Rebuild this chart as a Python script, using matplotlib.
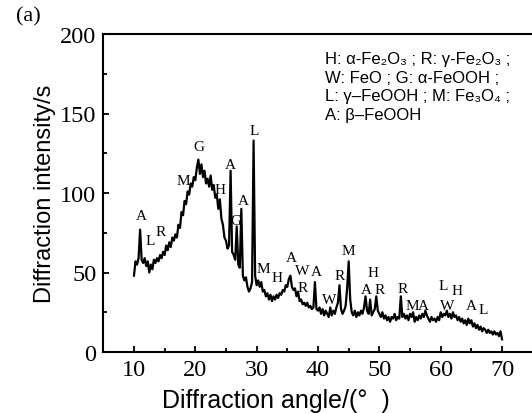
import numpy as np
import matplotlib
matplotlib.use("Agg")
import matplotlib.pyplot as plt
from matplotlib.ticker import MultipleLocator

# ---- data ----
angle_start, angle_step = 10.0, 0.25
intensity = [
    48, 57, 55, 59,    # 10
    77, 58, 56, 59,    # 11
    54, 57, 50, 55,    # 12
    52, 58, 56, 59,    # 13
    57, 61, 59, 63,    # 14
    61, 67, 64, 69,    # 15
    66, 72, 70, 74,    # 16
    72, 80, 78, 88,    # 17
    86, 95, 93, 101,   # 18
    99, 106, 104, 110, # 19
    108, 116, 121, 112,# 20
    118, 110, 114, 106,# 21
    109, 104, 111, 102,# 22
    105, 97, 99, 90,   # 23
    96, 84, 80, 72,    # 24
    70, 65, 67, 114,   # 25
    63, 61, 58, 79,    # 26
    55, 53, 90, 48,    # 27
    45, 47, 41, 38,    # 28
    40, 44, 133, 48,   # 29
    42, 45, 41, 44,    # 30
    38, 39, 35, 37,    # 31
    33, 36, 32, 35,    # 32
    33, 36, 34, 37,    # 33
    36, 39, 38, 42,    # 34
    41, 46, 48, 41,    # 35
    39, 40, 35, 38,    # 36
    32, 33, 30, 31,    # 37
    29, 31, 28, 29,    # 38
    27, 28, 44, 27,    # 39
    26, 28, 24, 27,    # 40
    23, 26, 24, 22,    # 41
    28, 23, 26, 24,    # 42
    28, 31, 42, 27,    # 43
    24, 26, 29, 40,    # 44
    57, 33, 25, 23,    # 45
    26, 22, 25, 23,    # 46
    26, 24, 28, 35,    # 47
    26, 24, 33, 23,    # 48
    25, 27, 35, 26,    # 49
    24, 22, 25, 21,    # 50
    23, 20, 22, 19,    # 51
    22, 21, 24, 20,    # 52
    22, 21, 35, 22,    # 53
    24, 21, 23, 20,    # 54
    24, 22, 25, 19,    # 55
    22, 20, 23, 21,    # 56
    24, 22, 26, 23,    # 57
    21, 19, 22, 20,    # 58
    21, 19, 22, 20,    # 59
    25, 22, 24, 23,    # 60
    26, 22, 24, 21,    # 61
    25, 22, 23, 20,    # 62
    22, 19, 21, 18,    # 63
    20, 17, 21, 18,    # 64
    20, 16, 18, 15,    # 65
    17, 14, 16, 13,    # 66
    15, 14, 12, 14,    # 67
    12, 13, 11, 13,    # 68
    11, 12, 10, 13,    # 69
    8,                 # 70
]
angle = angle_start + angle_step * np.arange(len(intensity))

peak_letters = ["A", "L", "R", "M", "G", "H", "A", "G", "A", "L",
                "M", "H", "A", "W", "R", "A", "W", "R", "M", "A",
                "H", "R", "R", "M", "A", "L", "W", "H", "A", "L"]
peak_x = [11.25, 12.7, 14.35, 18.05, 20.5, 24.1, 25.66, 26.6, 27.9, 29.6,
          31.1, 33.3, 35.7, 37.5, 37.5, 39.8, 41.9, 43.5, 45.0, 47.85,
          48.9, 50.1, 53.8, 55.3, 57.2, 60.45, 61.0, 62.6, 65.0, 67.0]
peak_y = [86, 70, 75.5, 108, 129, 102, 118, 82.6, 95, 139,
          52.6, 47, 59.6, 51, 40.7, 50.5, 33, 48.4, 63.7, 39,
          49.7, 39, 40, 29, 29, 41.7, 29, 38.6, 29, 27]

phase_lines = [
    "H: α-Fe₂O₃ ; R: γ-Fe₂O₃ ;",
    "W: FeO ; G: α-FeOOH ;",
    "L: γ–FeOOH ; M: Fe₃O₄ ;",
    "A: β–FeOOH",
]

x_ticks = [10, 20, 30, 40, 50, 60, 70]
y_ticks = [0, 50, 100, 150, 200]

# ---- figure ----
W, H = 532, 414
fig = plt.figure(figsize=(W / 100, H / 100), dpi=100)
ax = fig.add_axes([103.3 / W, 61 / H, 429.4 / W, 318 / H])

ax.plot(angle, intensity, color="black", lw=1.6)

ax.set_xlim(5, 75)
ax.set_ylim(0, 200)
ax.set_xticks(x_ticks)
ax.set_yticks(y_ticks)
ax.xaxis.set_minor_locator(MultipleLocator(5))
ax.yaxis.set_minor_locator(MultipleLocator(25))

serif = ["Liberation Serif", "DejaVu Serif"]
sans = ["Liberation Sans", "DejaVu Sans"]

for side in ["left", "bottom", "top"]:
    ax.spines[side].set_linewidth(1.5)
ax.spines["right"].set_visible(False)
ax.tick_params(which="both", direction="in", top=False, right=False, width=1.3)
ax.tick_params(which="major", length=4.5, labelsize=17.5, pad=5)
ax.tick_params(which="minor", length=3)
for lab in ax.get_xticklabels() + ax.get_yticklabels():
    lab.set_family(serif)

ax.set_xlabel("Diffraction angle/(°  )", family=sans, fontsize=18, va="center")
ax.xaxis.set_label_coords((276 - 103.3) / 429.4, (353 - 401) / 318)
ax.set_ylabel("Diffraction intensity/s", family=sans, fontsize=17, labelpad=3)

for t, px, py in zip(peak_letters, peak_x, peak_y):
    ax.text(px, py, t, family=serif, fontsize=11, ha="center", va="center")

fig.text(325 / W, 1 - 52 / H, "\n".join(phase_lines), family=sans,
         fontsize=12, ha="left", va="top", linespacing=1.3)

fig.text(28 / W, 1 - 17 / H, "(a)", family=serif, fontsize=16,
         ha="center", va="center")

fig.savefig("out.png", dpi=100)
